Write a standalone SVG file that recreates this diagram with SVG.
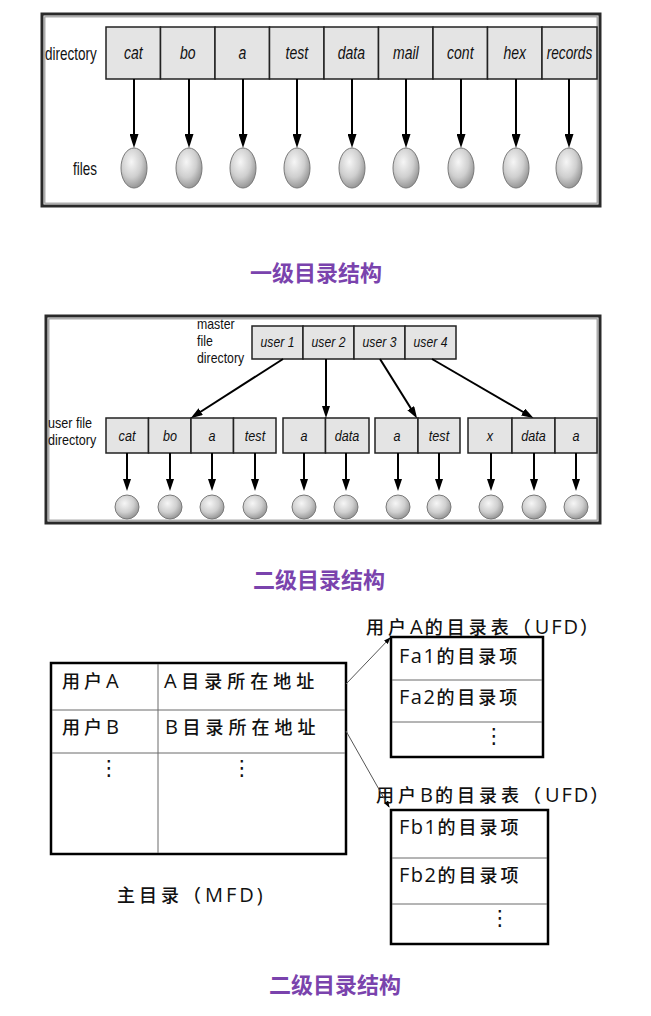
<svg xmlns="http://www.w3.org/2000/svg" width="651" height="1016" viewBox="0 0 651 1016">
  <style>
    .frame-out { fill: none; stroke: #2a2a2a; stroke-width: 3; }
    .frame-in { fill: none; stroke: #9a9a9a; stroke-width: 1.2; }
    .cell { fill: #e4e4e4; stroke: #222; stroke-width: 1.5; }
    .lbl { font-family: "Liberation Sans", Arial, sans-serif; fill: #111; }
    .it { font-style: italic; text-anchor: middle; }
    .arrow { stroke: #000; stroke-width: 2; fill: none; }
    .file { fill: url(#fileShade); stroke: #7a7a7a; stroke-width: 1; }
    .title { font-family: "Noto Sans CJK SC", "Noto Sans", sans-serif; font-weight: 700; font-size: 22px; fill: #7a43ad; text-anchor: middle; }
    .tbl-out { fill: #fff; stroke: #000; stroke-width: 2.5; }
    .tbl-in { stroke: #6a6a6a; stroke-width: 1; fill: none; }
    .zh { font-family: "Noto Sans CJK SC", "Open Sans", sans-serif; font-size: 18px; font-weight: 500; letter-spacing: 4px; fill: #111; }
    .la { font-family: "Open Sans", "Liberation Sans", sans-serif; font-size: 20px; font-weight: 400; letter-spacing: 1.5px; }
    .dots { font-family: "DejaVu Sans", sans-serif; font-size: 21px; fill: #111; text-anchor: middle; }
    .link { stroke: #555; stroke-width: 1; fill: none; }
  </style>
  <defs>
    <radialGradient id="fileShade" cx="0.4" cy="0.35" r="0.7">
      <stop offset="0" stop-color="#f6f6f6"/>
      <stop offset="0.55" stop-color="#cfcfcf"/>
      <stop offset="1" stop-color="#8e8e8e"/>
    </radialGradient>
    <marker id="headBig" viewBox="0 0 14 9" refX="10" refY="4.5" markerWidth="14" markerHeight="9" markerUnits="userSpaceOnUse" orient="auto">
      <path d="M0,0 L14,4.5 L0,9 z" fill="#000"/>
    </marker>
    <marker id="headSmall" viewBox="0 0 12 8" refX="8" refY="4" markerWidth="12" markerHeight="8" markerUnits="userSpaceOnUse" orient="auto">
      <path d="M0,0 L12,4 L0,8 z" fill="#000"/>
    </marker>
    <marker id="headTiny" viewBox="0 0 7 5" refX="6" refY="2.5" markerWidth="7" markerHeight="5" markerUnits="userSpaceOnUse" orient="auto">
      <path d="M0,0 L7,2.5 L0,5 z" fill="#000"/>
    </marker>
  </defs>

  <rect width="651" height="1016" fill="#fff"/>

  <!-- ===== Single-level directory ===== -->
  <g id="single-level">
    <rect class="frame-out" x="42" y="14" width="558" height="192"/>
    <rect class="frame-in" x="44.8" y="16.8" width="552.4" height="186.4"/>
    <text class="lbl" font-size="18" transform="translate(45,60) scale(0.75,1)">directory</text>
    <text class="lbl" font-size="18" transform="translate(73,175) scale(0.75,1)">files</text>
  </g>

  <g id="dir1" class="lbl">
    <rect class="cell" x="106" y="27" width="54.5" height="52"/>
    <rect class="cell" x="160.5" y="27" width="54.5" height="52"/>
    <rect class="cell" x="215" y="27" width="54.5" height="52"/>
    <rect class="cell" x="269.5" y="27" width="54.5" height="52"/>
    <rect class="cell" x="324" y="27" width="54.5" height="52"/>
    <rect class="cell" x="378.5" y="27" width="54.5" height="52"/>
    <rect class="cell" x="433" y="27" width="54.5" height="52"/>
    <rect class="cell" x="487.5" y="27" width="54.5" height="52"/>
    <rect class="cell" x="542" y="27" width="55" height="52"/>
    <g class="it" font-size="18">
      <text transform="translate(133.3,59) scale(0.78,1)">cat</text>
      <text transform="translate(187.8,59) scale(0.78,1)">bo</text>
      <text transform="translate(242.3,59) scale(0.78,1)">a</text>
      <text transform="translate(296.8,59) scale(0.78,1)">test</text>
      <text transform="translate(351.3,59) scale(0.78,1)">data</text>
      <text transform="translate(405.8,59) scale(0.78,1)">mail</text>
      <text transform="translate(460.3,59) scale(0.78,1)">cont</text>
      <text transform="translate(514.8,59) scale(0.78,1)">hex</text>
      <text transform="translate(569.5,59) scale(0.76,1)">records</text>
    </g>
  </g>

  <g id="files1">
    <ellipse class="file" cx="134" cy="168" rx="13" ry="20"/>
    <ellipse class="file" cx="189" cy="168" rx="13" ry="20"/>
    <ellipse class="file" cx="243" cy="168" rx="13" ry="20"/>
    <ellipse class="file" cx="297" cy="168" rx="13" ry="20"/>
    <ellipse class="file" cx="352" cy="168" rx="13" ry="20"/>
    <ellipse class="file" cx="406" cy="168" rx="13" ry="20"/>
    <ellipse class="file" cx="461" cy="168" rx="13" ry="20"/>
    <ellipse class="file" cx="516" cy="168" rx="13" ry="20"/>
    <ellipse class="file" cx="569" cy="168" rx="13" ry="20"/>
  </g>

  <g id="connectors1" class="arrow">
    <line x1="134" y1="79" x2="134" y2="144" marker-end="url(#headBig)"/>
    <line x1="189" y1="79" x2="189" y2="144" marker-end="url(#headBig)"/>
    <line x1="243" y1="79" x2="243" y2="144" marker-end="url(#headBig)"/>
    <line x1="297" y1="79" x2="297" y2="144" marker-end="url(#headBig)"/>
    <line x1="352" y1="79" x2="352" y2="144" marker-end="url(#headBig)"/>
    <line x1="406" y1="79" x2="406" y2="144" marker-end="url(#headBig)"/>
    <line x1="461" y1="79" x2="461" y2="144" marker-end="url(#headBig)"/>
    <line x1="516" y1="79" x2="516" y2="144" marker-end="url(#headBig)"/>
    <line x1="569" y1="79" x2="569" y2="144" marker-end="url(#headBig)"/>
  </g>

  <text id="title1" class="title" x="316" y="281">一级目录结构</text>

  <!-- ===== Two-level directory (tree view) ===== -->
  <g id="two-level">
    <rect class="frame-out" x="46" y="316" width="554" height="207"/>
    <rect class="frame-in" x="48.8" y="318.8" width="548.4" height="201.4"/>
    <g class="lbl" font-size="14">
      <text transform="translate(197,329) scale(0.88,1)">master</text>
      <text transform="translate(197,346) scale(0.88,1)">file</text>
      <text transform="translate(197,363) scale(0.88,1)">directory</text>
      <text transform="translate(48,428) scale(0.9,1)">user  file</text>
      <text transform="translate(48,445) scale(0.9,1)">directory</text>
    </g>
  </g>

  <g id="mfd" class="lbl">
    <rect class="cell" x="252" y="326" width="51" height="33"/>
    <rect class="cell" x="303" y="326" width="51" height="33"/>
    <rect class="cell" x="354" y="326" width="51" height="33"/>
    <rect class="cell" x="405" y="326" width="51" height="33"/>
    <g class="it" font-size="14">
      <text transform="translate(277.5,347) scale(0.87,1)">user 1</text>
      <text transform="translate(328.5,347) scale(0.87,1)">user 2</text>
      <text transform="translate(379.5,347) scale(0.87,1)">user 3</text>
      <text transform="translate(430.5,347) scale(0.87,1)">user 4</text>
    </g>
  </g>

  <g id="ufd1" class="lbl">
    <rect class="cell" x="106" y="418" width="42.5" height="35"/>
    <rect class="cell" x="148.5" y="418" width="42.5" height="35"/>
    <rect class="cell" x="191" y="418" width="42.5" height="35"/>
    <rect class="cell" x="233.5" y="418" width="42.5" height="35"/>
    <g class="it" font-size="14">
      <text transform="translate(127,441) scale(0.9,1)">cat</text>
      <text transform="translate(170,441) scale(0.9,1)">bo</text>
      <text transform="translate(212,441) scale(0.9,1)">a</text>
      <text transform="translate(255,441) scale(0.9,1)">test</text>
    </g>
  </g>

  <g id="ufd2" class="lbl">
    <rect class="cell" x="283" y="418" width="42.5" height="35"/>
    <rect class="cell" x="325.5" y="418" width="43.5" height="35"/>
    <g class="it" font-size="14">
      <text transform="translate(304,441) scale(0.9,1)">a</text>
      <text transform="translate(347,441) scale(0.9,1)">data</text>
    </g>
  </g>

  <g id="ufd3" class="lbl">
    <rect class="cell" x="375" y="418" width="43" height="35"/>
    <rect class="cell" x="418" y="418" width="42" height="35"/>
    <g class="it" font-size="14">
      <text transform="translate(397,441) scale(0.9,1)">a</text>
      <text transform="translate(439,441) scale(0.9,1)">test</text>
    </g>
  </g>

  <g id="ufd4" class="lbl">
    <rect class="cell" x="468" y="418" width="44" height="35"/>
    <rect class="cell" x="512" y="418" width="43" height="35"/>
    <rect class="cell" x="555" y="418" width="42" height="35"/>
    <g class="it" font-size="14">
      <text transform="translate(490,441) scale(0.9,1)">x</text>
      <text transform="translate(533.5,441) scale(0.9,1)">data</text>
      <text transform="translate(576,441) scale(0.9,1)">a</text>
    </g>
  </g>

  <g id="files2">
    <circle class="file" cx="127" cy="507" r="12"/>
    <circle class="file" cx="170" cy="507" r="12"/>
    <circle class="file" cx="212" cy="507" r="12"/>
    <circle class="file" cx="255" cy="507" r="12"/>
    <circle class="file" cx="304" cy="507" r="12"/>
    <circle class="file" cx="346" cy="507" r="12"/>
    <circle class="file" cx="398" cy="507" r="12"/>
    <circle class="file" cx="439" cy="507" r="12"/>
    <circle class="file" cx="491" cy="507" r="12"/>
    <circle class="file" cx="534" cy="507" r="12"/>
    <circle class="file" cx="576" cy="507" r="12"/>
  </g>

  <g id="connectors2" class="arrow">
    <line x1="283" y1="359" x2="194" y2="416" marker-end="url(#headSmall)"/>
    <line x1="326" y1="359" x2="326" y2="414" marker-end="url(#headSmall)"/>
    <line x1="380" y1="359" x2="415" y2="415" marker-end="url(#headSmall)"/>
    <line x1="432" y1="359" x2="530" y2="416" marker-end="url(#headSmall)"/>
    <line x1="127" y1="453" x2="127" y2="487" marker-end="url(#headSmall)"/>
    <line x1="170" y1="453" x2="170" y2="487" marker-end="url(#headSmall)"/>
    <line x1="212" y1="453" x2="212" y2="487" marker-end="url(#headSmall)"/>
    <line x1="255" y1="453" x2="255" y2="487" marker-end="url(#headSmall)"/>
    <line x1="304" y1="453" x2="304" y2="487" marker-end="url(#headSmall)"/>
    <line x1="346" y1="453" x2="346" y2="487" marker-end="url(#headSmall)"/>
    <line x1="398" y1="453" x2="398" y2="487" marker-end="url(#headSmall)"/>
    <line x1="439" y1="453" x2="439" y2="487" marker-end="url(#headSmall)"/>
    <line x1="491" y1="453" x2="491" y2="487" marker-end="url(#headSmall)"/>
    <line x1="534" y1="453" x2="534" y2="487" marker-end="url(#headSmall)"/>
    <line x1="576" y1="453" x2="576" y2="487" marker-end="url(#headSmall)"/>
  </g>

  <text id="title2" class="title" x="319" y="588">二级目录结构</text>

  <!-- ===== Two-level directory (table view) ===== -->
  <g id="mfd-table">
    <rect class="tbl-out" x="51" y="663" width="295" height="191"/>
    <line class="tbl-in" x1="52" y1="710" x2="345" y2="710"/>
    <line class="tbl-in" x1="52" y1="753" x2="345" y2="753"/>
    <line class="tbl-in" x1="158" y1="664" x2="158" y2="853"/>
    <text class="zh" x="62" y="688">用户<tspan class="la">A</tspan></text>
    <text class="zh" x="62" y="734">用户<tspan class="la">B</tspan></text>
    <text class="zh" x="164" y="688" style="letter-spacing:5px"><tspan class="la">A</tspan><tspan dx="3">目录所在地址</tspan></text>
    <text class="zh" x="165" y="734" style="letter-spacing:5px"><tspan class="la">B</tspan><tspan dx="3">目录所在地址</tspan></text>
    <text class="dots" x="109" y="775">⋮</text>
    <text class="dots" x="242" y="775">⋮</text>
    <text class="zh" x="117" y="902">主目录（<tspan class="la" style="letter-spacing:3px">MFD)</tspan></text>
  </g>

  <g id="ufd-a">
    <text class="zh" x="366" y="634">用户<tspan class="la" style="letter-spacing:2px">A</tspan>的目录表（<tspan class="la" style="letter-spacing:2px">UFD</tspan>）</text>
    <rect class="tbl-out" x="391" y="637" width="152" height="120"/>
    <line class="tbl-in" x1="392" y1="680" x2="542" y2="680"/>
    <line class="tbl-in" x1="392" y1="722" x2="542" y2="722"/>
    <text class="zh" x="399" y="663" style="letter-spacing:3px"><tspan class="la">Fa1</tspan>的目录项</text>
    <text class="zh" x="399" y="704" style="letter-spacing:3px"><tspan class="la">Fa2</tspan>的目录项</text>
    <text class="dots" x="494" y="743">⋮</text>
  </g>

  <g id="ufd-b">
    <text class="zh" x="376" y="802">用户<tspan class="la" style="letter-spacing:2px">B</tspan>的目录表（<tspan class="la" style="letter-spacing:2px">UFD</tspan>）</text>
    <rect class="tbl-out" x="391" y="810" width="157" height="134"/>
    <line class="tbl-in" x1="392" y1="858" x2="547" y2="858"/>
    <line class="tbl-in" x1="392" y1="904" x2="547" y2="904"/>
    <text class="zh" x="399" y="834" style="letter-spacing:3px"><tspan class="la">Fb1</tspan>的目录项</text>
    <text class="zh" x="399" y="882" style="letter-spacing:3px"><tspan class="la">Fb2</tspan>的目录项</text>
    <text class="dots" x="500" y="925">⋮</text>
  </g>

  <g id="connectors3" class="link">
    <line x1="346" y1="684" x2="390" y2="638" marker-end="url(#headTiny)"/>
    <line x1="346" y1="731" x2="389" y2="807" marker-end="url(#headTiny)"/>
  </g>

  <text id="title3" class="title" x="335" y="993">二级目录结构</text>
</svg>
